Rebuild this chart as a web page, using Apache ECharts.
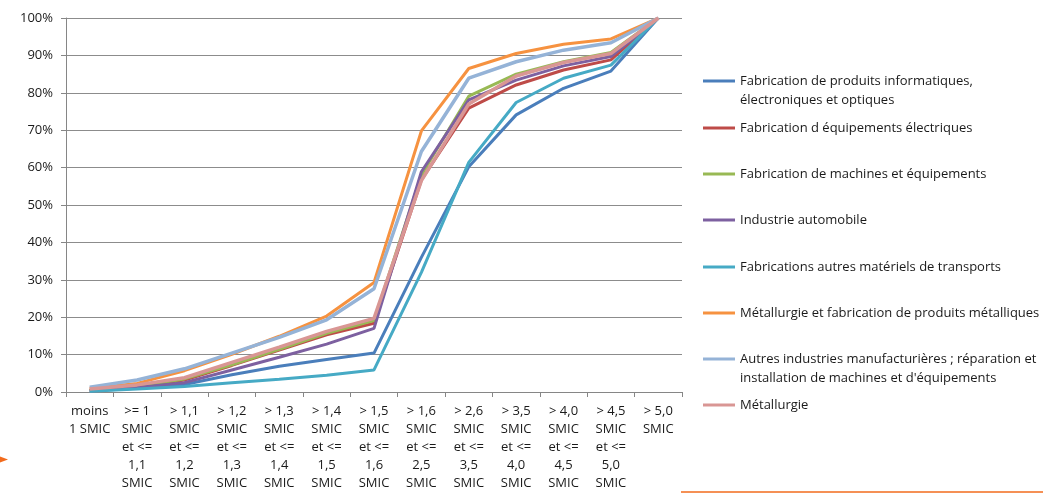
<!DOCTYPE html>
<html>
<head>
<meta charset="utf-8">
<script src="https://cdn.jsdelivr.net/npm/echarts@6/dist/echarts.min.js"></script>
<style>
  html, body { margin: 0; padding: 0; background: #fff; }
  #chart { width: 1049px; height: 493px; }
</style>
</head>
<body>
<div id="chart"></div>
<script>
// Salary brackets (in multiples of the SMIC)
const categories = [
  'moins\n1 SMIC',
  '>= 1\nSMIC\net <=\n1,1\nSMIC',
  '> 1,1\nSMIC\net <=\n1,2\nSMIC',
  '> 1,2\nSMIC\net <=\n1,3\nSMIC',
  '> 1,3\nSMIC\net <=\n1,4\nSMIC',
  '> 1,4\nSMIC\net <=\n1,5\nSMIC',
  '> 1,5\nSMIC\net <=\n1,6\nSMIC',
  '> 1,6\nSMIC\net <=\n2,5\nSMIC',
  '> 2,6\nSMIC\net <=\n3,5\nSMIC',
  '> 3,5\nSMIC\net <=\n4,0\nSMIC',
  '> 4,0\nSMIC\net <=\n4,5\nSMIC',
  '> 4,5\nSMIC\net <=\n5,0\nSMIC',
  '> 5,0\nSMIC'
];

// Cumulative share of employees (%) per sector
const informatique   = [0.3, 1.0, 2.0, 4.6, 6.9, 8.7, 10.4, 36.0, 60.2, 74.1, 81.2, 85.8, 100];
const electrique     = [0.5, 1.4, 3.2, 7.1, 11.2, 15.3, 18.4, 56.7, 75.9, 82.1, 86.1, 88.8, 100];
const machines       = [0.5, 1.5, 3.5, 7.3, 11.4, 15.7, 19.1, 58.0, 79.1, 85.0, 88.3, 90.8, 100];
const automobile     = [0.4, 1.2, 2.5, 5.9, 9.3, 12.8, 17.0, 58.9, 78.1, 83.4, 87.2, 89.7, 100];
const transports     = [0.2, 0.8, 1.5, 2.5, 3.4, 4.5, 5.9, 32.0, 61.4, 77.4, 83.9, 87.4, 100];
const metalProduits  = [1.0, 2.3, 5.7, 10.1, 14.9, 20.3, 29.3, 69.8, 86.5, 90.5, 93.0, 94.4, 100];
const autresManuf    = [1.3, 3.2, 6.2, 10.4, 14.6, 19.3, 27.6, 64.3, 83.9, 88.3, 91.4, 93.4, 100];
const metallurgie    = [0.8, 1.9, 3.8, 7.9, 12.0, 16.2, 19.7, 56.5, 77.0, 84.5, 88.1, 90.5, 100];

// Y axis ticks
const yMin = 0, yMax = 100, yStep = 10;

const seriesDefs = [
  { name: 'Fabrication de produits informatiques,\nélectroniques et optiques', data: informatique, color: '#4A7EBB', twoLines: true },
  { name: 'Fabrication d équipements électriques', data: electrique, color: '#BE4B48' },
  { name: 'Fabrication de machines et équipements', data: machines, color: '#98B954' },
  { name: 'Industrie automobile', data: automobile, color: '#7D60A0' },
  { name: 'Fabrications autres matériels de transports', data: transports, color: '#46AAC5' },
  { name: 'Métallurgie et fabrication de produits métalliques', data: metalProduits, color: '#F69240' },
  { name: 'Autres industries manufacturières ; réparation et\ninstallation de machines et d\'équipements', data: autresManuf, color: '#95B3D7', twoLines: true, width: 3.5 },
  { name: 'Métallurgie', data: metallurgie, color: '#D99694', width: 3.5 }
];

const FONT = '"Open Sans", "Noto Sans", sans-serif';
const legendCenters = [81, 128, 174, 220, 267, 313, 359, 405];
const LINE_H = 19;

// One legend block per sector so each entry sits at its own row;
// two-line names get a blank first line so the key aligns with line one.
const legends = seriesDefs.map((s, i) => ({
  data: [s.name],
  orient: 'vertical',
  left: 703,
  top: legendCenters[i] - (s.twoLines ? LINE_H * 1.5 : LINE_H / 2),
  padding: 0,
  icon: 'rect',
  itemWidth: 32,
  itemHeight: 3,
  itemGap: 0,
  selectedMode: false,
  formatter: name => (s.twoLines ? '\n' + name : name),
  textStyle: {
    fontFamily: FONT,
    fontSize: 13,
    lineHeight: LINE_H,
    color: '#1a1a1a'
  }
}));

const chart = echarts.init(document.getElementById('chart'), null, { renderer: 'canvas' });

chart.setOption({
  animation: false,
  backgroundColor: '#ffffff',
  textStyle: { fontFamily: FONT },
  grid: { left: 66, right: 367, top: 18, bottom: 101, containLabel: false },
  legend: legends,
  xAxis: {
    type: 'category',
    data: categories,
    boundaryGap: true,
    axisLine: { lineStyle: { color: '#868686', width: 1 } },
    axisTick: { show: true, length: 5, lineStyle: { color: '#868686' } },
    axisLabel: {
      interval: 0,
      margin: 10,
      fontFamily: FONT,
      fontSize: 13,
      lineHeight: 18,
      color: '#1a1a1a',
      align: 'center',
      verticalAlign: 'top'
    },
    splitLine: { show: false }
  },
  yAxis: {
    type: 'value',
    min: yMin,
    max: yMax,
    interval: yStep,
    axisLine: { show: true, lineStyle: { color: '#868686', width: 1 } },
    axisTick: { show: true, length: 5, lineStyle: { color: '#868686' } },
    axisLabel: {
      formatter: '{value}%',
      margin: 13,
      fontFamily: FONT,
      fontSize: 13,
      color: '#1a1a1a'
    },
    splitLine: { show: true, lineStyle: { color: '#8c8c8c', width: 1 } }
  },
  series: seriesDefs.map(s => ({
    name: s.name,
    type: 'line',
    data: s.data,
    symbol: 'none',
    smooth: false,
    color: s.color,
    lineStyle: { color: s.color, width: s.width || 3 },
    emphasis: { disabled: true }
  })),
  graphic: [
    // slide decoration: small arrowhead at left and rule at lower right
    {
      type: 'polygon',
      shape: { points: [[0, 456.5], [8, 459.5], [0, 462.5]] },
      style: { fill: '#F26B1D' }
    },
    {
      type: 'line',
      shape: { x1: 681, y1: 492, x2: 1043, y2: 492 },
      style: { stroke: '#F26B1D', lineWidth: 1.5 }
    }
  ]
});
</script>
</body>
</html>
